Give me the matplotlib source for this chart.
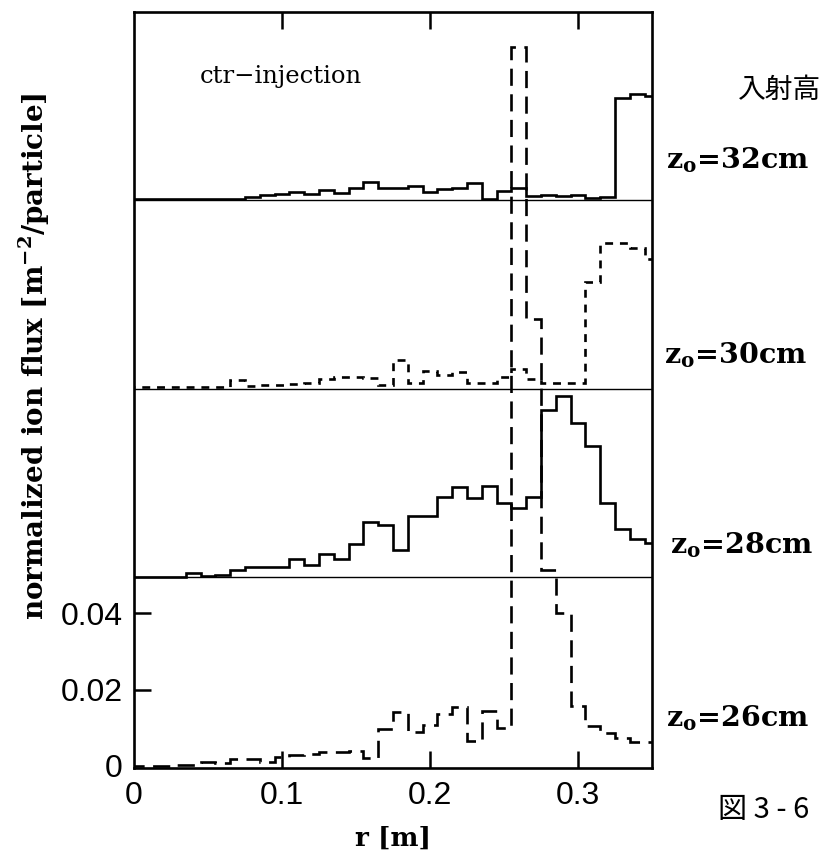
import numpy as np
import matplotlib
matplotlib.use("Agg")
import matplotlib.pyplot as plt

# ---- data (bin centres 0.00 ... 0.35 m, width 0.01 m) ----
r_centers = [round(0.01 * i, 2) for i in range(36)]

flux_26 = [0.0000, 0.0000, 0.0000, 0.0001, 0.0002, 0.0010, 0.0007, 0.0018, 0.0018,
           0.0011, 0.0023, 0.0028, 0.0031, 0.0037, 0.0035, 0.0038, 0.0020, 0.0097,
           0.0140, 0.0088, 0.0108, 0.0137, 0.0153, 0.0064, 0.0143, 0.0099, 0.1887,
           0.1174, 0.0514, 0.0402, 0.0156, 0.0105, 0.0086, 0.0074, 0.0061, 0.0061]

flux_28 = [0.0000, 0.0000, 0.0000, 0.0000, 0.0010, 0.0003, 0.0007, 0.0019, 0.0027,
           0.0027, 0.0027, 0.0049, 0.0032, 0.0061, 0.0049, 0.0087, 0.0144, 0.0138,
           0.0072, 0.0160, 0.0161, 0.0211, 0.0236, 0.0208, 0.0240, 0.0196, 0.0183,
           0.0210, 0.0440, 0.0477, 0.0405, 0.0344, 0.0196, 0.0126, 0.0100, 0.0089]

flux_30 = [0.0005, 0.0005, 0.0005, 0.0005, 0.0005, 0.0005, 0.0006, 0.0024, 0.0008,
           0.0010, 0.0011, 0.0013, 0.0015, 0.0026, 0.0031, 0.0032, 0.0028, 0.0009,
           0.0077, 0.0015, 0.0048, 0.0037, 0.0044, 0.0015, 0.0015, 0.0032, 0.0051,
           0.0026, 0.0015, 0.0015, 0.0015, 0.0281, 0.0383, 0.0383, 0.0371, 0.0342]

flux_32 = [0.0005, 0.0005, 0.0005, 0.0005, 0.0005, 0.0005, 0.0005, 0.0005, 0.0008,
           0.0014, 0.0018, 0.0023, 0.0018, 0.0027, 0.0020, 0.0033, 0.0049, 0.0032,
           0.0032, 0.0039, 0.0021, 0.0030, 0.0032, 0.0047, 0.0003, 0.0024, 0.0033,
           0.0012, 0.0014, 0.0012, 0.0014, 0.0007, 0.0008, 0.0268, 0.0280, 0.0274]

panel_labels = ["26", "28", "30", "32"]
x_ticks = [0, 0.1, 0.2, 0.3]
x_tick_labels = ["0", "0.1", "0.2", "0.3"]
y_ticks = [0, 0.02, 0.04]
y_tick_labels = ["0", "0.02", "0.04"]

panel_h = 0.0495

# ---- figure ----
W, H = 830, 851
fig = plt.figure(figsize=(W / 100, H / 100), dpi=100)
ax = fig.add_axes([134 / W, 1 - 768 / H, (652 - 134) / W, (768 - 12) / H])

bw = 0.01
edges = np.array([c - bw / 2 for c in r_centers] + [r_centers[-1] + bw / 2])

lw = 1.9
ax.stairs(np.array(flux_32) + 3 * panel_h, edges, baseline=None, color="black",
          lw=lw, linestyle="-")
ax.stairs(np.array(flux_30) + 2 * panel_h, edges, baseline=None, color="black",
          lw=lw, linestyle=(0, (3.0, 2.6)))
ax.stairs(np.array(flux_28) + 1 * panel_h, edges, baseline=None, color="black",
          lw=lw, linestyle="-")
ax.stairs(np.array(flux_26), edges, baseline=None, color="black",
          lw=lw, linestyle=(0, (6.5, 3.2)))

for k in (1, 2, 3):
    ax.axhline(k * panel_h, color="black", lw=1.0)

ax.set_xlim(0, 0.35)
ax.set_ylim(-0.0006, 4 * panel_h)

for s in ax.spines.values():
    s.set_linewidth(1.9)

ax.set_xticks(x_ticks)
ax.set_xticklabels(x_tick_labels, fontfamily="Liberation Sans", fontsize=23)
ax.set_yticks(y_ticks)
ax.set_yticklabels(y_tick_labels, fontfamily="Liberation Sans", fontsize=23)
ax.tick_params(axis="both", direction="in", length=12, width=1.8,
               top=True, right=False)
ax.tick_params(axis="x", pad=9)
ax.tick_params(axis="y", pad=8)
# hide the corner ticks at 0
for t in ax.xaxis.get_major_ticks()[:1]:
    t.tick1line.set_visible(False)
    t.tick2line.set_visible(False)
for t in ax.yaxis.get_major_ticks()[:1]:
    t.tick1line.set_visible(False)

serif = "DejaVu Serif"
fig.text(200 / W, 1 - 76 / H, "ctr\u2212injection", fontfamily=serif,
         fontsize=17.5, ha="left", va="center")

fig.text(393 / W, 1 - 838 / H, "r [m]", fontfamily=serif, fontweight="bold",
         fontsize=19, ha="center", va="center")
fig.text(34 / W, 1 - 356 / H,
         r"normalized ion flux [m$^{\mathregular{-2}}$/particle]",
         fontfamily=serif, fontweight="bold", fontsize=20, rotation=90,
         ha="center", va="center")

label_pos = {"32": (666, 160), "30": (664, 355), "28": (670, 545), "26": (666, 718)}
for lab in panel_labels:
    px, py = label_pos[lab]
    fig.text(px / W, 1 - py / H, r"z$_{\mathregular{o}}$=" + lab + "cm",
             fontfamily=serif, fontweight="bold", fontsize=20.5,
             ha="left", va="center")

fig.text(780 / W, 1 - 90 / H, "入射高", fontfamily=["Noto Sans CJK JP"],
         fontsize=20, ha="center", va="center")
fig.text(718 / W, 1 - 810 / H, "図 3 - 6", fontfamily=["Noto Sans CJK JP"],
         fontsize=21, ha="left", va="center")

fig.savefig("out.png", dpi=100, facecolor="white")
